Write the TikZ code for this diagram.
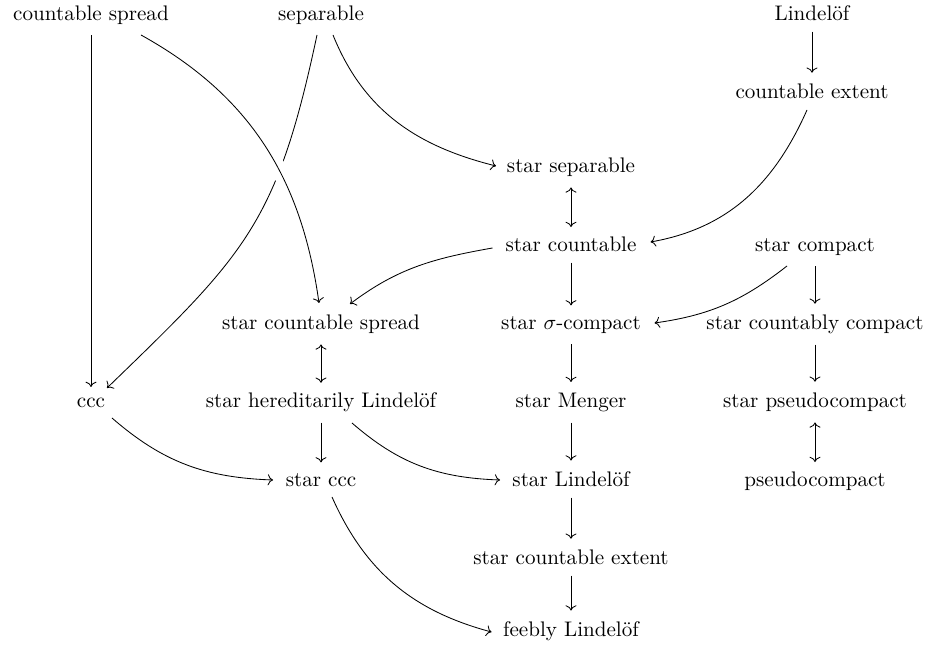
\documentclass[tikz,border=0pt]{standalone}
\usetikzlibrary{calc,arrows.meta}
\begin{document}
\begin{tikzpicture}[x=0.4739pt, y=0.4739pt,
  lab/.style={anchor=base, inner xsep=5.8pt, inner ysep=4.7pt, font=\fontsize{10}{12}\selectfont},
  arr/.style={-{To}, line width=0.4pt},
  vert/.style={arr, shorten >=0.6pt},
  both/.style={{To}-{To}, line width=0.4pt}]
\useasboundingbox (0,0) rectangle (927,647);
\node[lab] (cs) at (91,626) {countable spread};
\node[lab] (sep) at (321,626) {separable};
\node[lab] (lin) at (812,626) {Lindel\"of};
\node[lab] (ce) at (812,548) {countable extent};
\node[lab] (ssep) at (571,474) {star separable};
\node[lab] (sc) at (571,395) {star countable};
\node[lab] (scomp) at (815,395) {star compact};
\node[lab] (scs) at (321,317) {star countable spread};
\node[lab] (ssig) at (571,317) {star $\sigma$-compact};
\node[lab] (scc) at (815,317) {star countably compact};
\node[lab] (ccc) at (91,239) {ccc};
\node[lab] (shl) at (321,239) {star hereditarily Lindel\"of};
\node[lab] (smen) at (571,239) {star Menger};
\node[lab] (spc) at (815,239) {star pseudocompact};
\node[lab] (sccc) at (321,160) {star ccc};
\node[lab] (slin) at (571,160) {star Lindel\"of};
\node[lab] (pc) at (815,160) {pseudocompact};
\node[lab] (sce) at (571,82) {star countable extent};
\node[lab] (fl) at (571,10) {feebly Lindel\"of};
% vertical arrows
\draw[vert] (cs) -- (ccc);
\draw[vert] (lin) -- (ce);
\draw[both] (ssep) -- (sc);
\draw[vert] (sc) -- (ssig);
\draw[vert] (scomp) -- (scc);
\draw[both] (scs) -- (shl);
\draw[vert] (ssig) -- (smen);
\draw[vert] (scc) -- (spc);
\draw[vert] (shl) -- (sccc);
\draw[vert] (smen) -- (slin);
\draw[both] (spc) -- (pc);
\draw[vert] (slin) -- (sce);
\draw[vert] (sce) -- (fl);
% curved arrows
\draw[arr] ($(sep.base)+(-4,-14)$) to[out=-102,in=44,looseness=1.2] ($(ccc.base)+(16,20)$);
\draw[arr, preaction={draw=white, line width=7.5pt, -}] ($(cs.base)+(50,-14)$) to[out=-29,in=98] ($(scs.base)+(-2,27)$);
\draw[arr] ($(sep.base)+(12,-14)$) to[out=-68,in=166] ($(ssep.base)+(-75,7)$);
\draw[arr] ($(ce.base)+(-5,-11)$) to[out=-114,in=10] ($(sc.base)+(79.5,10)$);
\draw[arr] ($(sc.base)+(-78.5,4)$) to[out=190,in=37] ($(scs.base)+(29,26)$);
\draw[arr] ($(scomp.base)+(-28,-14)$) to[out=-142,in=8] ($(ssig.base)+(83.5,7)$);
\draw[arr] ($(ccc.base)+(21,-10)$) to[out=-41,in=178] ($(sccc.base)+(-48,7)$);
\draw[arr] ($(shl.base)+(31,-15)$) to[out=-41,in=178] ($(slin.base)+(-71,7)$);
\draw[arr] ($(sccc.base)+(11,-10)$) to[out=-66,in=165] ($(fl.base)+(-79.5,5)$);
\end{tikzpicture}
\end{document}
